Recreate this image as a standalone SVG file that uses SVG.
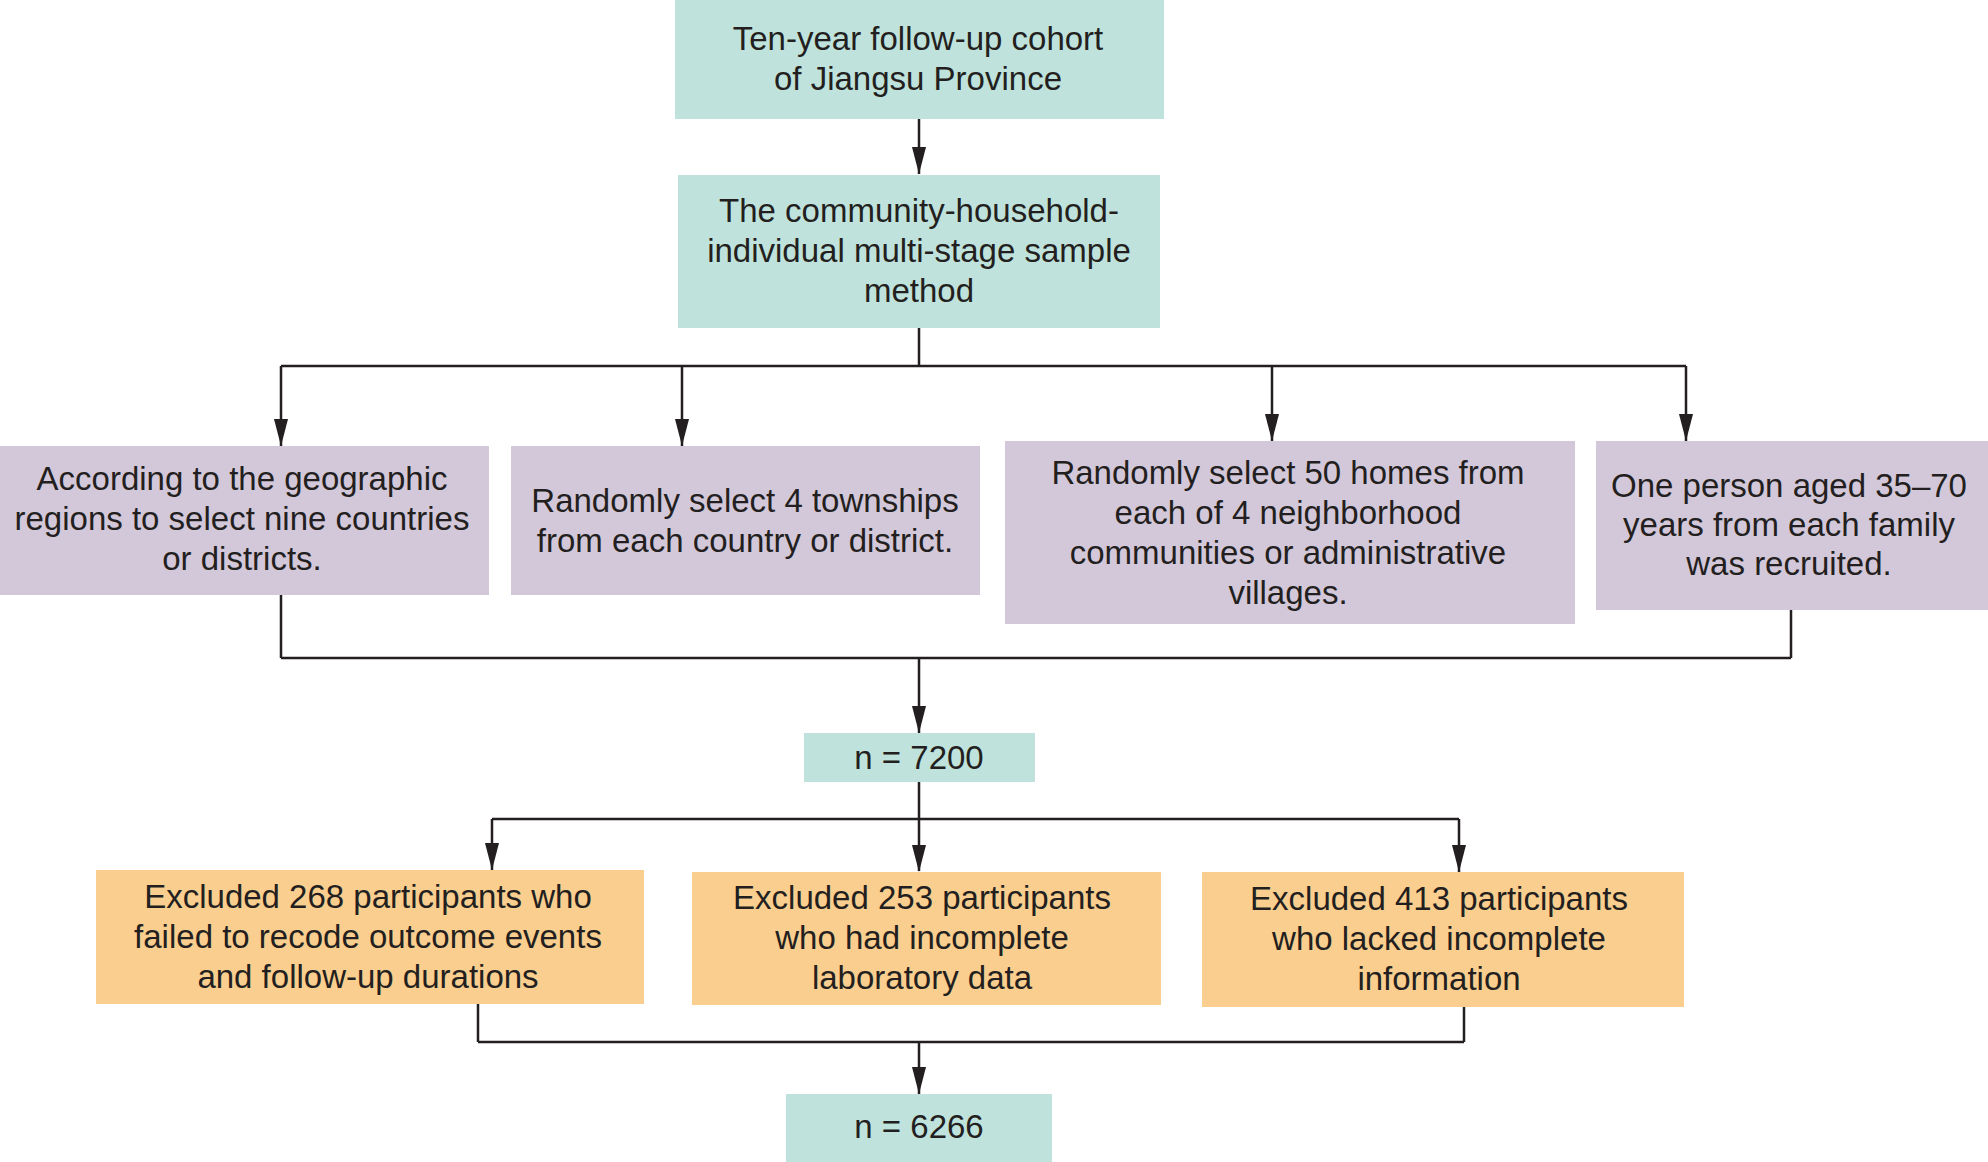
<svg xmlns="http://www.w3.org/2000/svg" width="1988" height="1162" viewBox="0 0 1988 1162">
<defs>
<style>
.teal{fill:#BFE3DC}
.purple{fill:#D3C8DA}
.orange{fill:#FACE8E}
text{font-family:"Liberation Sans",Arial,sans-serif;font-size:33px;fill:#231F20;text-anchor:middle}
.ln{fill:none;stroke:#231F20;stroke-width:2.5}
</style>
<marker id="ah" markerUnits="userSpaceOnUse" markerWidth="16" markerHeight="28" viewBox="0 0 16 28" refX="8" refY="27" orient="auto-start-reverse">
<path d="M0 0 L16 0 L8 27 Z" fill="#231F20" transform="rotate(0)"/>
</marker>
</defs>
<rect width="1988" height="1162" fill="#fff"/>
<g id="connectors">
<path class="ln" d="M919 119 V174"/>
<path class="ln" d="M919 328 V366 M281 366 H1686"/>
<path class="ln" d="M281 366 V446 M682 366 V446 M1272 366 V441 M1686 366 V441"/>
<path class="ln" d="M281 595 V658 M1791 610 V658 M281 658 H1791 M919 658 V733"/>
<path class="ln" d="M919 782 V871 M492 819 H1459 M492 819 V870 M1459 819 V872"/>
<path class="ln" d="M478 1004 V1042 M1464 1007 V1042 M478 1042 H1464 M919 1042 V1094"/>
<g fill="#231F20">
<polygon points="912,147 926,147 919,174"/>
<polygon points="274,419 288,419 281,446"/>
<polygon points="675,419 689,419 682,446"/>
<polygon points="1265,414 1279,414 1272,441"/>
<polygon points="1679,414 1693,414 1686,441"/>
<polygon points="912,706 926,706 919,733"/>
<polygon points="485,843 499,843 492,870"/>
<polygon points="912,845 926,845 919,872"/>
<polygon points="1452,845 1466,845 1459,872"/>
<polygon points="912,1067 926,1067 919,1094"/>
</g>
</g>
<g id="n1">
<rect class="teal" x="675" y="0" width="489" height="119"/>
<text x="918" y="50">Ten-year follow-up cohort</text>
<text x="918" y="90">of Jiangsu Province</text>
</g>
<g id="n2">
<rect class="teal" x="678" y="175" width="482" height="153"/>
<text x="919" y="222">The community-household-</text>
<text x="919" y="262">individual multi-stage sample</text>
<text x="919" y="302">method</text>
</g>
<g id="n3">
<rect class="purple" x="0" y="446" width="489" height="149"/>
<text x="242" y="490">According to the geographic</text>
<text x="242" y="530">regions to select nine countries</text>
<text x="242" y="570">or districts.</text>
</g>
<g id="n4">
<rect class="purple" x="511" y="446" width="469" height="149"/>
<text x="745" y="512">Randomly select 4 townships</text>
<text x="745" y="552">from each country or district.</text>
</g>
<g id="n5">
<rect class="purple" x="1005" y="441" width="570" height="183"/>
<text x="1288" y="484">Randomly select 50 homes from</text>
<text x="1288" y="524">each of 4 neighborhood</text>
<text x="1288" y="564">communities or administrative</text>
<text x="1288" y="604">villages.</text>
</g>
<g id="n6">
<rect class="purple" x="1596" y="441" width="392" height="169"/>
<text x="1789" y="497">One person aged 35–70</text>
<text x="1789" y="536">years from each family</text>
<text x="1789" y="575">was recruited.</text>
</g>
<g id="n7">
<rect class="teal" x="804" y="733" width="231" height="49"/>
<text x="919" y="769">n = 7200</text>
</g>
<g id="n8">
<rect class="orange" x="96" y="870" width="548" height="134"/>
<text x="368" y="908">Excluded 268 participants who</text>
<text x="368" y="948">failed to recode outcome events</text>
<text x="368" y="988">and follow-up durations</text>
</g>
<g id="n9">
<rect class="orange" x="692" y="872" width="469" height="133"/>
<text x="922" y="909">Excluded 253 participants</text>
<text x="922" y="949">who had incomplete</text>
<text x="922" y="989">laboratory data</text>
</g>
<g id="n10">
<rect class="orange" x="1202" y="872" width="482" height="135"/>
<text x="1439" y="910">Excluded 413 participants</text>
<text x="1439" y="950">who lacked incomplete</text>
<text x="1439" y="990">information</text>
</g>
<g id="n11">
<rect class="teal" x="786" y="1094" width="266" height="68"/>
<text x="919" y="1138">n = 6266</text>
</g>
</svg>
